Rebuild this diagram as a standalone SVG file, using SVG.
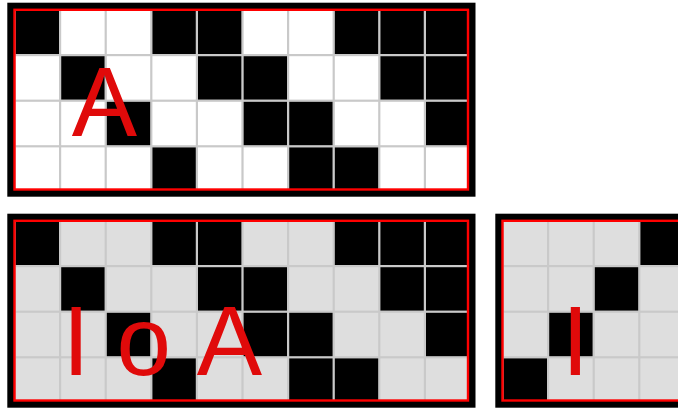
<svg xmlns="http://www.w3.org/2000/svg" xmlns:xlink="http://www.w3.org/1999/xlink" width="678" height="408" viewBox="0 0 678 408">
<style>
.frame{fill:#000}
.gridbg{fill:#c9c9c9}
.blk{fill:#000}
.edge{fill:none;stroke:#ff0000;stroke-width:2.4}
.lbl{font-family:"Liberation Sans",Arial,sans-serif;font-size:98px;fill:#e00a0a}
</style>
<defs>
<clipPath id="inner"><rect x="14.5" y="9.8" width="453.5" height="179.7"/></clipPath>
<g id="cells">
<rect x="15.6" y="10.6" width="43.4" height="43.4"/><rect x="61.2" y="10.6" width="43.4" height="43.4"/><rect x="106.8" y="10.6" width="43.4" height="43.4"/><rect x="152.4" y="10.6" width="43.4" height="43.4"/><rect x="198" y="10.6" width="43.4" height="43.4"/><rect x="243.6" y="10.6" width="43.4" height="43.4"/><rect x="289.2" y="10.6" width="43.4" height="43.4"/><rect x="334.8" y="10.6" width="43.4" height="43.4"/><rect x="380.4" y="10.6" width="43.4" height="43.4"/><rect x="426" y="10.6" width="43.4" height="43.4"/>
<rect x="15.6" y="56.2" width="43.4" height="43.4"/><rect x="61.2" y="56.2" width="43.4" height="43.4"/><rect x="106.8" y="56.2" width="43.4" height="43.4"/><rect x="152.4" y="56.2" width="43.4" height="43.4"/><rect x="198" y="56.2" width="43.4" height="43.4"/><rect x="243.6" y="56.2" width="43.4" height="43.4"/><rect x="289.2" y="56.2" width="43.4" height="43.4"/><rect x="334.8" y="56.2" width="43.4" height="43.4"/><rect x="380.4" y="56.2" width="43.4" height="43.4"/><rect x="426" y="56.2" width="43.4" height="43.4"/>
<rect x="15.6" y="101.8" width="43.4" height="43.4"/><rect x="61.2" y="101.8" width="43.4" height="43.4"/><rect x="106.8" y="101.8" width="43.4" height="43.4"/><rect x="152.4" y="101.8" width="43.4" height="43.4"/><rect x="198" y="101.8" width="43.4" height="43.4"/><rect x="243.6" y="101.8" width="43.4" height="43.4"/><rect x="289.2" y="101.8" width="43.4" height="43.4"/><rect x="334.8" y="101.8" width="43.4" height="43.4"/><rect x="380.4" y="101.8" width="43.4" height="43.4"/><rect x="426" y="101.8" width="43.4" height="43.4"/>
<rect x="15.6" y="147.4" width="43.4" height="43.4"/><rect x="61.2" y="147.4" width="43.4" height="43.4"/><rect x="106.8" y="147.4" width="43.4" height="43.4"/><rect x="152.4" y="147.4" width="43.4" height="43.4"/><rect x="198" y="147.4" width="43.4" height="43.4"/><rect x="243.6" y="147.4" width="43.4" height="43.4"/><rect x="289.2" y="147.4" width="43.4" height="43.4"/><rect x="334.8" y="147.4" width="43.4" height="43.4"/><rect x="380.4" y="147.4" width="43.4" height="43.4"/><rect x="426" y="147.4" width="43.4" height="43.4"/>
</g>
<g id="patA" class="blk">
<rect x="15.6" y="10.6" width="43.4" height="43.4"/><rect x="152.4" y="10.6" width="43.4" height="43.4"/><rect x="198" y="10.6" width="43.4" height="43.4"/><rect x="334.8" y="10.6" width="43.4" height="43.4"/><rect x="380.4" y="10.6" width="43.4" height="43.4"/><rect x="426" y="10.6" width="43.4" height="43.4"/>
<rect x="61.2" y="56.2" width="43.4" height="43.4"/><rect x="198" y="56.2" width="43.4" height="43.4"/><rect x="243.6" y="56.2" width="43.4" height="43.4"/><rect x="380.4" y="56.2" width="43.4" height="43.4"/><rect x="426" y="56.2" width="43.4" height="43.4"/>
<rect x="106.8" y="101.8" width="43.4" height="43.4"/><rect x="243.6" y="101.8" width="43.4" height="43.4"/><rect x="289.2" y="101.8" width="43.4" height="43.4"/><rect x="426" y="101.8" width="43.4" height="43.4"/>
<rect x="152.4" y="147.4" width="43.4" height="43.4"/><rect x="289.2" y="147.4" width="43.4" height="43.4"/><rect x="334.8" y="147.4" width="43.4" height="43.4"/>
</g>
</defs>

<g id="panel-top">
<rect class="frame" x="7.3" y="2.7" width="468.2" height="194"/>
<g clip-path="url(#inner)">
<rect class="gridbg" x="14.5" y="9.8" width="453.5" height="179.7"/>
<use xlink:href="#cells" fill="#ffffff"/>
<use xlink:href="#patA"/>
</g>
<rect class="edge" x="14.5" y="9.8" width="453.5" height="179.7"/>
<text class="lbl" x="104.5" y="135.5" text-anchor="middle">A</text>
</g>

<g id="panel-bottom-left" transform="translate(0,211)">
<rect class="frame" x="7.3" y="2.7" width="468.2" height="194"/>
<g clip-path="url(#inner)">
<rect class="gridbg" x="14.5" y="9.8" width="453.5" height="179.7"/>
<use xlink:href="#cells" fill="#dedede"/>
<use xlink:href="#patA"/>
</g>
<rect class="edge" x="14.5" y="9.8" width="453.5" height="179.7"/>
<text class="lbl" y="164"><tspan x="62.5">I</tspan> <tspan x="116.6">o</tspan> <tspan x="196.8">A</tspan></text>
</g>

<g id="panel-bottom-right" transform="translate(488,211)">
<rect class="frame" x="7.3" y="2.7" width="468.2" height="194"/>
<g clip-path="url(#inner)">
<rect class="gridbg" x="14.5" y="9.8" width="453.5" height="179.7"/>
<use xlink:href="#cells" fill="#dedede"/>
<g class="blk">
<rect x="152.4" y="10.6" width="43.4" height="43.4"/>
<rect x="106.8" y="56.2" width="43.4" height="43.4"/>
<rect x="61.2" y="101.8" width="43.4" height="43.4"/>
<rect x="15.6" y="147.4" width="43.4" height="43.4"/>
</g>
</g>
<rect class="edge" x="14.5" y="9.8" width="453.5" height="179.7"/>
<text class="lbl" x="73.8" y="164">I</text>
</g>
</svg>
